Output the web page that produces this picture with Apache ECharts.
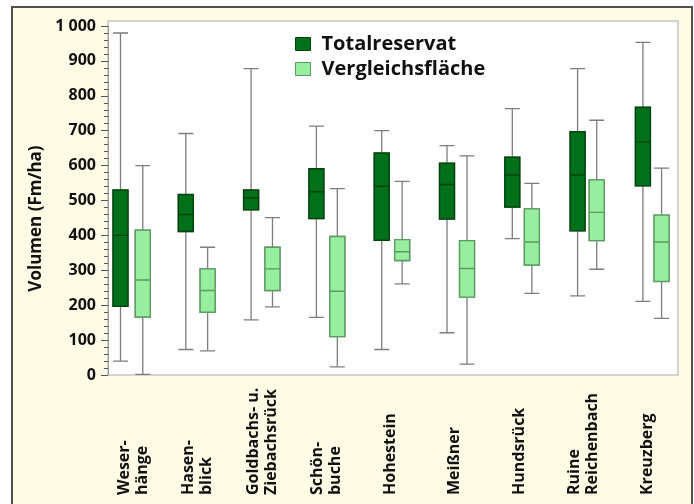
<!DOCTYPE html>
<html>
<head>
<meta charset="utf-8">
<script src="https://cdn.jsdelivr.net/npm/echarts@6/dist/echarts.min.js"></script>
<style>
  html, body { margin: 0; padding: 0; background: #ffffff; }
  #chart { width: 694px; height: 504px; }
</style>
</head>
<body>
<div id="chart"></div>
<script>
// Sites (x-axis categories)
const categories = [
  'Weser-\nhänge', 'Hasen-\nblick', 'Goldbachs- u.\nZiebachsrück', 'Schön-\nbuche',
  'Hohestein', 'Meißner', 'Hundsrück', 'Ruine\nReichenbach', 'Kreuzberg'
];

// Totalreservat: whisker low, lower quartile, median, upper quartile, whisker high (Fm/ha)
const totalMin = [40, 73, 158, 165, 73, 121, 391, 227, 211];
const totalQ1  = [197, 411, 473, 448, 386, 447, 481, 413, 542];
const totalMed = [400, 460, 507, 525, 541, 546, 573, 573, 668];
const totalQ3  = [530, 517, 530, 591, 636, 607, 624, 697, 767];
const totalMax = [980, 692, 878, 713, 700, 657, 763, 878, 953];

// Vergleichsfläche
const compMin = [2, 69, 195, 23, 261, 31, 234, 303, 162];
const compQ1  = [166, 180, 242, 110, 328, 223, 315, 385, 268];
const compMed = [272, 242, 304, 240, 353, 305, 381, 466, 381];
const compQ3  = [415, 304, 366, 397, 388, 385, 476, 559, 458];
const compMax = [600, 366, 451, 534, 555, 628, 549, 730, 593];

// Y axis
const yMin = 0, yMax = 1000, yStep = 100;
const yTitle = 'Volumen (Fm/ha)';
const seriesNames = ['Totalreservat', 'Vergleichsfläche'];

const FONT = '"Open Sans", "DejaVu Sans", sans-serif';
const DARK = { fill: '#00701a', border: '#00420d' };
const LIGHT = { fill: '#98ee9f', border: '#5a9c61' };
const WHISKER = '#7d7d7d';

const PLOT_TOP = 26, PLOT_H = 349;
const BAND_W = 587.7;
const DARK_LEFT = 87.85, LIGHT_LEFT = 110.35;

function fullBoxes(lo, q1, md, q3, hi) {
  return lo.map((_, i) => [lo[i], q1[i], md[i], q3[i], hi[i]]);
}
function bodyOnly(q1, md, q3) {
  return q1.map((_, i) => [q1[i], q1[i], md[i], q3[i], q3[i]]);
}

const chart = echarts.init(document.getElementById('chart'), null, { renderer: 'canvas' });

const hiddenValueAxis = (g) => ({ gridIndex: g, type: 'value', min: yMin, max: yMax, show: false });
const hiddenCatAxis = (g) => ({ gridIndex: g, type: 'category', data: categories, show: false });
const boxGrid = (left) => ({ left: left, top: PLOT_TOP, width: BAND_W, height: PLOT_H });

chart.setOption({
  animation: false,
  backgroundColor: '#ffffff',
  graphic: [
    { type: 'rect', z: -10, shape: { x: 12, y: 7, width: 680, height: 520 },
      style: { fill: '#fffce6', stroke: '#4f4f4f', lineWidth: 2 } },
    { type: 'rect', z: -9, shape: { x: 108, y: 21, width: 570, height: 354 },
      style: { fill: '#ffffff', stroke: '#c6c6c6', lineWidth: 1.5 } }
  ],
  grid: [
    { left: 108, top: PLOT_TOP, width: 570, height: PLOT_H },   // 0: value axis frame
    boxGrid(DARK_LEFT),                                         // 1: Totalreservat whiskers
    boxGrid(DARK_LEFT),                                         // 2: Totalreservat boxes
    boxGrid(LIGHT_LEFT),                                        // 3: Vergleichsfläche whiskers
    boxGrid(LIGHT_LEFT),                                        // 4: Vergleichsfläche boxes
    { left: 101.3, top: PLOT_TOP, width: 578.6, height: PLOT_H } // 5: site labels
  ],
  xAxis: [
    { gridIndex: 0, type: 'value', show: false },
    hiddenCatAxis(1),
    hiddenCatAxis(2),
    hiddenCatAxis(3),
    hiddenCatAxis(4),
    {
      gridIndex: 5, type: 'category', data: categories,
      axisLine: { show: false }, axisTick: { show: false },
      axisLabel: {
        interval: 0, rotate: 90, align: 'left', verticalAlign: 'middle',
        margin: 120, fontSize: 16, fontWeight: 'bold', lineHeight: 18,
        fontFamily: FONT, color: '#111111'
      }
    }
  ],
  yAxis: [
    {
      gridIndex: 0, type: 'value', min: yMin, max: yMax, interval: yStep,
      axisLine: { show: true, lineStyle: { color: '#9a9a9a', width: 1 } },
      axisTick: { show: true, length: 7, lineStyle: { color: '#555555' } },
      minorTick: { show: true, splitNumber: 5, length: 4, lineStyle: { color: '#555555' } },
      splitLine: { show: false },
      axisLabel: {
        formatter: (v) => v >= 1000 ? String(v).replace(/(\d)(\d{3})$/, '$1 $2') : String(v),
        fontSize: 16, fontWeight: 'bold', color: '#111111', margin: 12, fontFamily: FONT
      },
      name: yTitle, nameLocation: 'middle', nameGap: 61,
      nameTextStyle: { fontSize: 17, fontWeight: 'bold', color: '#111111', fontFamily: FONT, padding: [0, 36, 0, 0] }
    },
    hiddenValueAxis(1),
    hiddenValueAxis(2),
    hiddenValueAxis(3),
    hiddenValueAxis(4),
    hiddenValueAxis(5)
  ],
  legend: {
    data: [
      { name: seriesNames[0], itemStyle: { color: DARK.fill, borderColor: DARK.border, borderWidth: 1 } },
      { name: seriesNames[1], itemStyle: { color: LIGHT.fill, borderColor: LIGHT.border, borderWidth: 1 } }
    ],
    orient: 'vertical', left: 295, top: 34, padding: 0,
    itemWidth: 15, itemHeight: 13, itemGap: 5, icon: 'rect',
    selectedMode: false,
    textStyle: { fontSize: 20, fontWeight: 'bold', color: '#111111', fontFamily: FONT, padding: [0, 0, 0, 6] }
  },
  series: [
    {
      name: 'Totalreservat Whisker', type: 'boxplot', xAxisIndex: 1, yAxisIndex: 1, z: 2,
      boxWidth: [15, 15], silent: true,
      itemStyle: { color: 'rgba(0,0,0,0)', borderColor: WHISKER, borderWidth: 1.3 },
      emphasis: { disabled: true },
      data: fullBoxes(totalMin, totalQ1, totalMed, totalQ3, totalMax)
    },
    {
      name: seriesNames[0], type: 'boxplot', xAxisIndex: 2, yAxisIndex: 2, z: 3,
      boxWidth: [15, 15], silent: true,
      itemStyle: { color: DARK.fill, borderColor: DARK.border, borderWidth: 1.4 },
      emphasis: { disabled: true },
      data: bodyOnly(totalQ1, totalMed, totalQ3)
    },
    {
      name: 'Vergleichsfläche Whisker', type: 'boxplot', xAxisIndex: 3, yAxisIndex: 3, z: 2,
      boxWidth: [15, 15], silent: true,
      itemStyle: { color: 'rgba(0,0,0,0)', borderColor: WHISKER, borderWidth: 1.3 },
      emphasis: { disabled: true },
      data: fullBoxes(compMin, compQ1, compMed, compQ3, compMax)
    },
    {
      name: seriesNames[1], type: 'boxplot', xAxisIndex: 4, yAxisIndex: 4, z: 3,
      boxWidth: [15, 15], silent: true,
      itemStyle: { color: LIGHT.fill, borderColor: LIGHT.border, borderWidth: 1.4 },
      emphasis: { disabled: true },
      data: bodyOnly(compQ1, compMed, compQ3)
    }
  ]
});
</script>
</body>
</html>
